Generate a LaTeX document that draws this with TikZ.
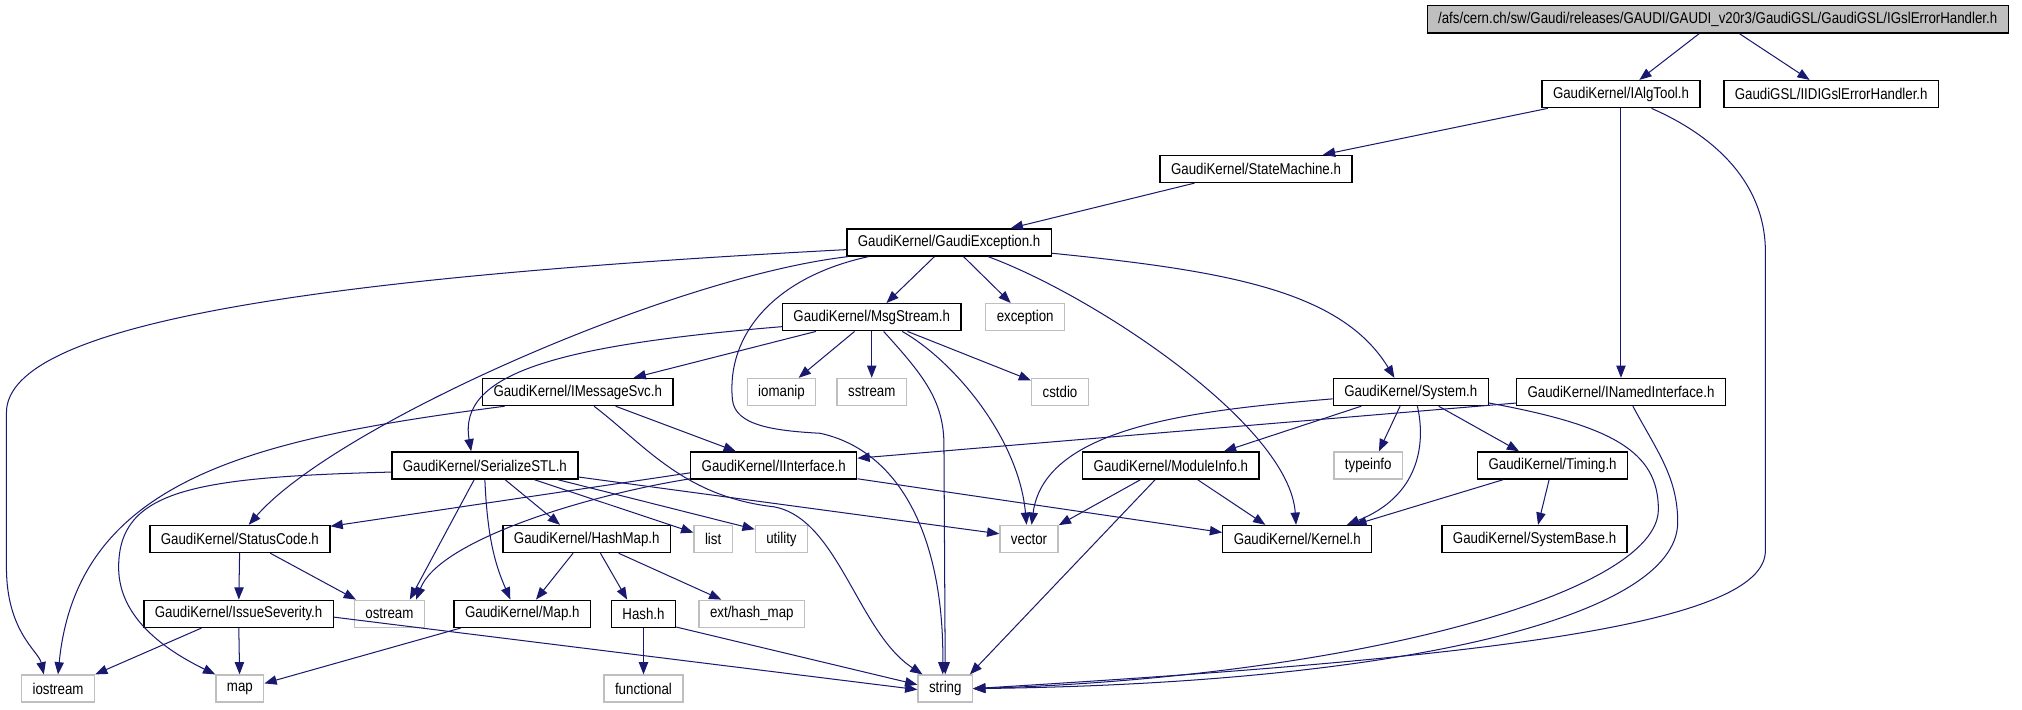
\documentclass[tikz,border=0pt]{standalone}
\usepackage{fontspec}
\setmainfont{Liberation Sans}[FakeStretch=0.85]
\usepackage{xcolor}
\usepackage{tikz}
\usetikzlibrary{arrows.meta}
\definecolor{edgeblue}{HTML}{191970}
\definecolor{sysgray}{HTML}{BFBFBF}
\definecolor{rootfill}{HTML}{BFBFBF}
\tikzset{
    filebox/.style={
        draw=black, fill=white, line width=0.6pt,
        minimum height=0.42cm, inner xsep=0.17cm, inner ysep=0pt,
        font=\fontsize{6.9}{8}\selectfont
    },
    sysbox/.style={
        draw=sysgray, fill=white, line width=0.6pt,
        minimum height=0.42cm, inner xsep=0.17cm, inner ysep=0pt,
        font=\fontsize{6.9}{8}\selectfont
    },
    rootbox/.style={filebox, fill=rootfill},
    arrow/.style={-{Triangle[length=1.9mm, width=1.45mm]}, line width=0.45pt, color=edgeblue},
}
\begin{document}
\begin{tikzpicture}[x=0.02cm, y=-0.02cm]
    \fill[white] (0,0) rectangle (1568,550);
    \node[rootbox] (root) at (1332,15) {/afs/cern.ch/sw/Gaudi/releases/GAUDI/GAUDI\_v20r3/GaudiGSL/GaudiGSL/IGslErrorHandler.h};
    \node[filebox] (ialgtool) at (1257,73) {GaudiKernel/IAlgTool.h};
    \node[filebox] (iidigsl) at (1420,73) {GaudiGSL/IIDIGslErrorHandler.h};
    \node[filebox] (statemach) at (974,131) {GaudiKernel/StateMachine.h};
    \node[filebox] (gaudiexc) at (736,188) {GaudiKernel/GaudiException.h};
    \node[filebox] (msgstream) at (676,246) {GaudiKernel/MsgStream.h};
    \node[sysbox] (exception) at (795,246) {exception};
    \node[filebox] (imsgsvc) at (448,304) {GaudiKernel/IMessageSvc.h};
    \node[sysbox] (iomanip) at (606,304) {iomanip};
    \node[sysbox] (sstream) at (676,304) {sstream};
    \node[sysbox] (cstdio) at (822,304) {cstdio};
    \node[filebox] (system) at (1094,304) {GaudiKernel/System.h};
    \node[filebox] (inamed) at (1257,304) {GaudiKernel/INamedInterface.h};
    \node[filebox] (serstl) at (376,361) {GaudiKernel/SerializeSTL.h};
    \node[filebox] (iiface) at (600,361) {GaudiKernel/IInterface.h};
    \node[filebox] (modinfo) at (908,361) {GaudiKernel/ModuleInfo.h};
    \node[sysbox] (typeinfo) at (1061,361) {typeinfo};
    \node[filebox] (timing) at (1204,361) {GaudiKernel/Timing.h};
    \node[filebox] (statcode) at (186,418) {GaudiKernel/StatusCode.h};
    \node[filebox] (hashmap) at (455,418) {GaudiKernel/HashMap.h};
    \node[sysbox] (list) at (553,418) {list};
    \node[sysbox] (utility) at (606,418) {utility};
    \node[sysbox] (vector) at (798,418) {vector};
    \node[filebox] (kernel) at (1006,418) {GaudiKernel/Kernel.h};
    \node[filebox] (sysbase) at (1190,418) {GaudiKernel/SystemBase.h};
    \node[filebox] (issuesev) at (185,476) {GaudiKernel/IssueSeverity.h};
    \node[sysbox] (ostream) at (302,476) {ostream};
    \node[filebox] (maph) at (405,476) {GaudiKernel/Map.h};
    \node[filebox] (hashh) at (499,476) {Hash.h};
    \node[sysbox] (exthashmap) at (583,476) {ext/hash\_map};
    \node[sysbox] (iostream) at (45,534) {iostream};
    \node[sysbox] (map) at (186,534) {map};
    \node[sysbox] (functional) at (499,534) {functional};
    \node[sysbox] (string) at (733,534) {string};

    \draw[arrow] (root) -- (ialgtool);
    \draw[arrow] (root) -- (iidigsl);
    \draw[arrow] (ialgtool.-169) -- (statemach.12);
    \draw[arrow] (ialgtool) -- (inamed);
    \draw[arrow] (ialgtool.-25) .. controls (1340,110) and (1369,150) .. (1369,195) -- (1369,427) .. controls (1369,485) and (1150,510) .. (string.east);
    \draw[arrow] (statemach.-167) -- (gaudiexc.13);
    \draw[arrow] (gaudiexc.184) .. controls (250,215) and (5,250) .. (5,320) -- (5,440) .. controls (5,490) and (30,505) .. (iostream.135);
    \draw[arrow] (gaudiexc.-172) .. controls (520,215) and (260,330) .. (statcode.58);
    \draw[arrow] (gaudiexc) -- (msgstream);
    \draw[arrow] (gaudiexc) -- (exception);
    \draw[arrow] (gaudiexc.-170) .. controls (600,215) and (563,260) .. (568,310) .. controls (570,330) and (600,334) .. (636,336) .. controls (700,350) and (732,420) .. (string.100);
    \draw[arrow] (gaudiexc.-20) .. controls (850,230) and (1000,330) .. (kernel.95);
    \draw[arrow] (gaudiexc.-6) .. controls (950,210) and (1040,225) .. (system.139);
    \draw[arrow] (msgstream) -- (imsgsvc);
    \draw[arrow] (msgstream.186) .. controls (430,268) and (355,290) .. (serstl.134);
    \draw[arrow] (msgstream) -- (iomanip);
    \draw[arrow] (msgstream) -- (sstream);
    \draw[arrow] (msgstream.-50) .. controls (715,290) and (732,310) .. (732,345) -- (string.north);
    \draw[arrow] (msgstream) -- (cstdio);
    \draw[arrow] (msgstream.-25) .. controls (740,280) and (790,340) .. (vector.100);
    \draw[arrow] (imsgsvc) -- (iiface);
    \draw[arrow] (imsgsvc.-169) .. controls (200,340) and (60,370) .. (iostream.north);
    \draw[arrow] (imsgsvc.-41) .. controls (500,345) and (530,385) .. (600,393) .. controls (650,402) and (665,490) .. (string.148);
    \draw[arrow] (serstl.184) .. controls (150,370) and (92,380) .. (92,440) .. controls (92,480) and (130,505) .. (map.150);
    \draw[arrow] (serstl.-127) -- (ostream.35);
    \draw[arrow] (serstl.south) .. controls (378,420) and (385,440) .. (maph.130);
    \draw[arrow] (serstl.-35) -- (hashmap.152);
    \draw[arrow] (serstl.-16) -- (list.162);
    \draw[arrow] (serstl.-11) -- (utility.160);
    \draw[arrow] (serstl.-7) -- (vector.170);
    \draw[arrow] (iiface.-175) -- (statcode.8);
    \draw[arrow] (iiface.-171) .. controls (450,385) and (340,420) .. (ostream.28);
    \draw[arrow] (iiface.-9) -- (kernel.175);
    \draw[arrow] (statcode) -- (issuesev);
    \draw[arrow] (statcode.-25) -- (ostream.157);
    \draw[arrow] (hashmap.-134) -- (maph.46);
    \draw[arrow] (hashmap.-46) -- (hashh.139);
    \draw[arrow] (hashmap.-24) -- (exthashmap.155);
    \draw[arrow] (issuesev.-159) -- (iostream.north east);
    \draw[arrow] (issuesev) -- (map);
    \draw[arrow] (issuesev.-2) -- (string.182);
    \draw[arrow] (maph.-167) -- (map.12);
    \draw[arrow] (hashh) -- (functional);
    \draw[arrow] (hashh.-22) -- (string.172);
    \draw[arrow] (system.185) .. controls (930,318) and (810,330) .. (vector.80);
    \draw[arrow] (system.-164) -- (modinfo.15);
    \draw[arrow] (system.-127) -- (typeinfo.53);
    \draw[arrow] (system.-65) .. controls (1106,345) and (1100,385) .. (kernel.16);
    \draw[arrow] (system.-27) -- (timing.157);
    \draw[arrow] (system.-8) .. controls (1250,330) and (1286,350) .. (1286,395) .. controls (1286,460) and (1050,525) .. (string.east);
    \draw[arrow] (inamed.186) -- (iiface.5);
    \draw[arrow] (inamed.-50) .. controls (1285,350) and (1301,370) .. (1301,405) .. controls (1301,480) and (1080,530) .. (string.east);
    \draw[arrow] (modinfo.-155) -- (vector.25);
    \draw[arrow] (modinfo.-28) -- (kernel.156);
    \draw[arrow] (modinfo.-138) -- (string.30);
    \draw[arrow] (timing.-164) -- (kernel.14);
    \draw[arrow] (timing) -- (sysbase);
\end{tikzpicture}
\end{document}
